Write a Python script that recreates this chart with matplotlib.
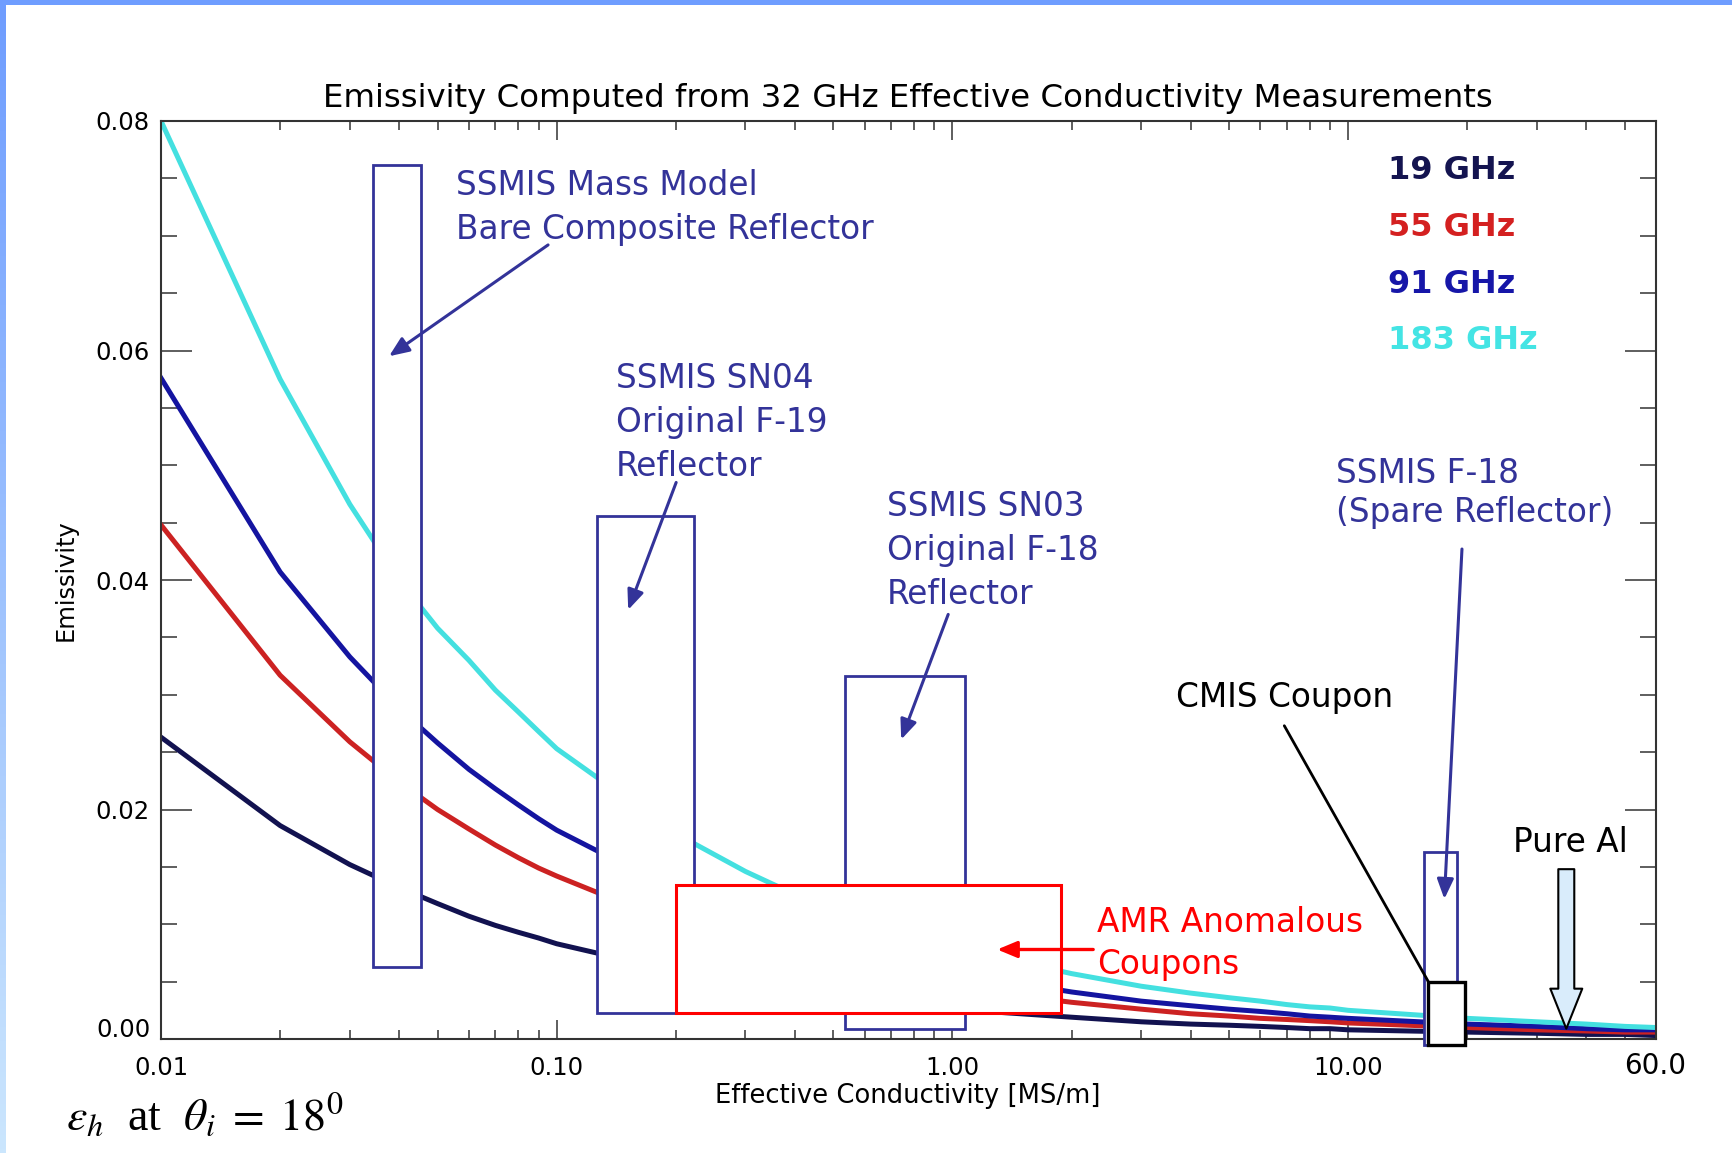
import numpy as np
import matplotlib
matplotlib.use('Agg')
import matplotlib.pyplot as plt
from matplotlib.patches import Rectangle
from matplotlib.colors import LinearSegmentedColormap
from matplotlib.ticker import FixedLocator, MultipleLocator, LogLocator, NullFormatter

W, H = 1733, 1153
plt.rcParams['mathtext.fontset'] = 'stix'
plt.rcParams['font.family'] = ['DejaVu Sans']

# ---------------- data ----------------
sigma = [0.01, 0.02, 0.03, 0.04, 0.05, 0.06, 0.07, 0.08, 0.09,
         0.1, 0.2, 0.3, 0.4, 0.5, 0.6, 0.7, 0.8, 0.9,
         1, 2, 3, 4, 5, 6, 7, 8, 9,
         10, 20, 30, 40, 50, 60]
e19 = [0.0263, 0.0186, 0.0152, 0.0132, 0.0118, 0.0107, 0.0099, 0.0093, 0.0088,
       0.0083, 0.0059, 0.0048, 0.0042, 0.0037, 0.0034, 0.0031, 0.0029, 0.0028,
       0.0026, 0.0019, 0.0015, 0.0013, 0.0012, 0.0011, 0.0010, 0.0009, 0.0009,
       0.0008, 0.0006, 0.0005, 0.0004, 0.0004, 0.0003]
e55 = [0.0448, 0.0317, 0.0259, 0.0224, 0.0200, 0.0183, 0.0169, 0.0158, 0.0149,
       0.0142, 0.0100, 0.0082, 0.0071, 0.0063, 0.0058, 0.0054, 0.0050, 0.0047,
       0.0045, 0.0032, 0.0026, 0.0022, 0.0020, 0.0018, 0.0017, 0.0016, 0.0015,
       0.0014, 0.0010, 0.0008, 0.0007, 0.0006, 0.0006]
e91 = [0.0576, 0.0407, 0.0333, 0.0288, 0.0258, 0.0235, 0.0218, 0.0204, 0.0192,
       0.0182, 0.0129, 0.0105, 0.0091, 0.0081, 0.0074, 0.0069, 0.0064, 0.0061,
       0.0058, 0.0041, 0.0033, 0.0029, 0.0026, 0.0024, 0.0022, 0.0020, 0.0019,
       0.0018, 0.0013, 0.0011, 0.0009, 0.0008, 0.0008]
e183 = [0.0800, 0.0575, 0.0466, 0.0400, 0.0358, 0.0330, 0.0304, 0.0285, 0.0268,
        0.0253, 0.0179, 0.0146, 0.0126, 0.0113, 0.0103, 0.0096, 0.0089, 0.0084,
        0.0080, 0.0057, 0.0046, 0.0040, 0.0036, 0.0033, 0.0030, 0.0028, 0.0027,
        0.0025, 0.0018, 0.0015, 0.0013, 0.0011, 0.0010]
series_labels = ['19 GHz', '55 GHz', '91 GHz', '183 GHz']
series_colors = ['#121250', '#cc2222', '#1414a0', '#44e0e0']
legend_colors = ['#141450', '#d42020', '#1616a8', '#44e4e4']

xticks = [0.01, 0.1, 1, 10]
xticklabels = ['0.01', '0.10', '1.00', '10.00']
yticks = [0.0, 0.02, 0.04, 0.06, 0.08]
yticklabels = ['0.00', '0.02', '0.04', '0.06', '0.08']

# measurement boxes: (x0, x1, y0, y1) in data units
box_mass = (0.0343, 0.0454, 0.0063, 0.0762)
box_sn04 = (0.1263, 0.2219, 0.0023, 0.0456)
box_sn03 = (0.5349, 1.0787, 0.0009, 0.0316)
box_amr = (0.2007, 1.883, 0.0023, 0.0134)
box_f18 = (15.58, 18.88, -0.0005, 0.0163)
box_cmis = (15.95, 19.78, -0.0005, 0.0050)

BLUE = '#333399'
RED = '#ff0000'

fig = plt.figure(figsize=(W / 100, H / 100), dpi=100)
fig.patch.set_facecolor('white')

# slide border (top strip + left gradient strip)
fig.add_artist(Rectangle((0, 1 - 5 / H), 1, 5 / H, transform=fig.transFigure,
                         facecolor='#6f9dff', edgecolor='none', zorder=0))
bax = fig.add_axes([0, 0, 6 / W, 1 - 5 / H])
cmap = LinearSegmentedColormap.from_list('b', ['#6f9dff', '#cbe6fd'])
bax.imshow(np.linspace(0, 1, 256)[:, None], aspect='auto', cmap=cmap)
bax.axis('off')

ax = fig.add_axes([161 / W, 1 - 1039 / H, (1656 - 161) / W, (1039 - 121) / H])
ax.set_xscale('log')
for vals, c in zip([e19, e55, e91, e183], series_colors):
    ax.plot(sigma, vals, color=c, lw=3.6, solid_joinstyle='round', zorder=2)
ax.set_xlim(0.01, 60)
ax.set_ylim(0, 0.08)

ax.xaxis.set_major_locator(FixedLocator(xticks))
ax.set_xticklabels(xticklabels)
ax.xaxis.set_minor_locator(LogLocator(base=10, subs=np.arange(2, 10)))
ax.xaxis.set_minor_formatter(NullFormatter())
ax.yaxis.set_major_locator(FixedLocator(yticks))
# the 0.00 label is drawn slightly raised (as in the IDL output) further below
ax.set_yticklabels([''] + yticklabels[1:])
ax.yaxis.set_minor_locator(MultipleLocator(0.005))
ax.tick_params(axis='both', which='both', direction='in', top=True, right=True,
               color='#333333', width=1.1, labelcolor='black')
ax.tick_params(axis='y', which='major', length=22, pad=8, labelsize=17.5)
ax.tick_params(axis='y', which='minor', length=11.5)
ax.tick_params(axis='x', which='major', length=13.7, pad=12, labelsize=17.5)
ax.tick_params(axis='x', which='minor', length=6.8)
for sp in ax.spines.values():
    sp.set_linewidth(1.5)
    sp.set_color('#333333')


def add_box(b, ec, lw, z):
    x0, x1, y0, y1 = b
    ax.add_patch(Rectangle((x0, y0), x1 - x0, y1 - y0, facecolor='white',
                           edgecolor=ec, lw=lw, zorder=z, clip_on=False))


add_box(box_mass, BLUE, 2.0, 3)
add_box(box_sn04, BLUE, 2.0, 3)
add_box(box_sn03, BLUE, 2.0, 3)
add_box(box_amr, RED, 2.2, 4)
add_box(box_f18, BLUE, 2.0, 3)
add_box(box_cmis, 'black', 2.4, 5)


def arrow(tip, start, color, lw=2.2, style='-|>,head_length=0.6,head_width=0.25', ms=20, **kw):
    ax.annotate('', xy=tip, xytext=start, annotation_clip=False,
                arrowprops=dict(arrowstyle=style, color=color, lw=lw, shrinkA=0,
                                shrinkB=0, mutation_scale=ms, **kw), zorder=7)


arrow((0.0377, 0.0595), (0.0951, 0.0692), BLUE)
arrow((0.1516, 0.0374), (0.2004, 0.0485), BLUE)
arrow((0.7424, 0.0261), (0.9759, 0.0370), BLUE)
arrow((17.51, 0.0122), (19.40, 0.0427), BLUE)
arrow((1.298, 0.0078), (2.269, 0.0078), RED, lw=2.4)
arrow((15.95, 0.0050), (6.899, 0.0273), 'black', lw=2.0, style='-')
ax.annotate('', xy=(35.6, 0.0009), xytext=(35.6, 0.0148), annotation_clip=False,
            arrowprops=dict(arrowstyle='simple,head_length=2.88,head_width=2.3,tail_width=1.15',
                            fc='#d9ecfb', ec='black', lw=1.5, shrinkA=0, shrinkB=0,
                            mutation_scale=10), zorder=8)


def txt(x, y, s, **kw):
    fig.text(x / W, 1 - y / H, s, **kw)


# IDL texts
txt(151, 1030, yticklabels[0], ha='right', va='center', fontsize=17.5)
txt(908, 107, 'Emissivity Computed from 32 GHz Effective Conductivity Measurements',
    ha='center', va='baseline', fontsize=23.3, color='black')
txt(908, 1103, 'Effective Conductivity [MS/m]', ha='center', va='baseline', fontsize=18.6)
txt(66, 580, 'Emissivity', ha='center', va='center', rotation=90, fontsize=17.4)
for lab, c, yb in zip(series_labels, legend_colors, [179, 236, 293, 349]):
    txt(1388, yb, lab, ha='left', va='baseline', fontsize=23, fontweight='bold', color=c)

# slide annotations
SZ = 23.6
for s, yb in zip(['SSMIS Mass Model', 'Bare Composite Reflector'], [195, 239]):
    txt(456, yb, s, color=BLUE, fontsize=SZ, va='baseline')
for s, yb in zip(['SSMIS SN04', 'Original F-19', 'Reflector'], [388, 432, 476]):
    txt(616, yb, s, color=BLUE, fontsize=SZ, va='baseline')
for s, yb in zip(['SSMIS SN03', 'Original F-18', 'Reflector'], [516, 560, 604]):
    txt(887, yb, s, color=BLUE, fontsize=SZ, va='baseline')
for s, yb in zip(['SSMIS F-18', '(Spare Reflector)'], [483, 522]):
    txt(1336, yb, s, color=BLUE, fontsize=SZ, va='baseline')
txt(1176, 707, 'CMIS Coupon', color='black', fontsize=SZ, va='baseline')
for s, yb in zip(['AMR Anomalous', 'Coupons'], [932, 974]):
    txt(1097, yb, s, color=RED, fontsize=SZ, va='baseline')
txt(1513, 852, 'Pure Al', color='black', fontsize=SZ, va='baseline')
txt(1655, 1066, '60.0', color='black', fontsize=20, ha='center', va='center')
txt(66, 1130, r'$\varepsilon_h$  at  $\theta_i\;=\;18^0$', family='Liberation Serif',
    fontsize=33, va='baseline')

fig.savefig('out.png', dpi=100, facecolor='white')
